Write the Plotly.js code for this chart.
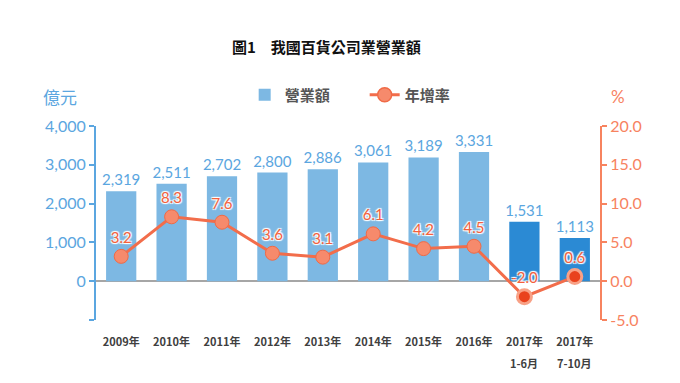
<!DOCTYPE html>
<html>
<head>
<meta charset="utf-8">
<script src="https://cdn.plot.ly/plotly-3.0.1.min.js"></script>
<style>html,body{margin:0;padding:0;background:#fff;}#chart{width:680px;height:383px;}</style>
</head>
<body>
<div id="chart"></div>
<script>
const categories = ["2009年","2010年","2011年","2012年","2013年","2014年","2015年","2016年","2017年","2017年"];
const subLabels = ["","","","","","","","","1-6月","7-10月"];
const revenue = [2319, 2511, 2702, 2800, 2886, 3061, 3189, 3331, 1531, 1113];
const growth = [3.2, 8.3, 7.6, 3.6, 3.1, 6.1, 4.2, 4.5, -2.0, 0.6];
const leftTicks = [-1000, 0, 1000, 2000, 3000, 4000];
const leftTickText = ["", "0", "1,000", "2,000", "3,000", "4,000"];
const rightTicks = [-5, 0, 5, 10, 15, 20];
const rightTickText = ["-5.0", "0.0", "5.0", "10.0", "15.0", "20.0"];

const BLUE_L = "#7db8e3", BLUE_D = "#2b8ad4", BLUE_T = "#5ba6e0";
const ORANGE = "#f26d4b", ORANGE_T = "#f7835f";
const FONT = "Lato, 'Noto Sans CJK TC', sans-serif";
const CJK = "'Noto Sans CJK TC', sans-serif";

const xIdx = categories.map((c, i) => i);
const barColors = categories.map((c, i) => i >= 8 ? BLUE_D : BLUE_L);
const mkFill = categories.map((c, i) => i >= 8 ? "#e9421d" : "#f68a6c");
const mkLine = categories.map((c, i) => i >= 8 ? "#f8a186" : "#f06a46");
const mkLW = categories.map((c, i) => i >= 8 ? 3 : 1);

const traces = [
  {
    type: "bar", name: "營業額", x: xIdx, y: revenue, width: 0.6,
    marker: {color: barColors},
    text: revenue.map(v => v.toLocaleString("en-US")),
    textposition: "outside", cliponaxis: false, constraintext: "none",
    textfont: {color: BLUE_T, size: 15, family: FONT},
    hoverinfo: "skip"
  },
  {
    type: "scatter", name: "年增率", x: xIdx, y: growth, yaxis: "y2",
    mode: "lines+markers+text",
    line: {color: ORANGE, width: 3},
    marker: {size: 14, color: mkFill, line: {color: mkLine, width: mkLW}},
    text: growth.map(v => v.toFixed(1)),
    textposition: "top center", cliponaxis: false,
    textfont: {color: "#f4603c", size: 15, family: FONT,
      shadow: "1px 1px 1px #fff, -1px -1px 1px #fff, 1px -1px 1px #fff, -1px 1px 1px #fff"},
    hoverinfo: "skip"
  }
];

const annotations = [
  {text: "<b>圖1　我國百貨公司業營業額</b>", xref: "paper", yref: "paper",
   x: (326 - 96) / 504, y: (320 - 47) / 194, xanchor: "center", yanchor: "middle",
   showarrow: false, font: {size: 15, color: "#111", family: CJK}},
  {text: "億元", xref: "paper", yref: "paper",
   x: (60 - 96) / 504, y: (320 - 96) / 194, xanchor: "center", yanchor: "middle",
   showarrow: false, font: {size: 17, color: BLUE_T, family: CJK}},
  {text: "%", xref: "paper", yref: "paper",
   x: (618 - 96) / 504, y: (320 - 96) / 194, xanchor: "center", yanchor: "middle",
   showarrow: false, font: {size: 17, color: ORANGE_T, family: FONT}}
];
subLabels.forEach((s, i) => {
  if (s) annotations.push({text: "<b>" + s + "</b>", xref: "x", yref: "paper", x: i,
    y: (320 - 363) / 194, xanchor: "center", yanchor: "middle", showarrow: false,
    font: {size: 11, color: "#404040", family: CJK}});
});

const layout = {
  width: 680, height: 383,
  margin: {l: 96, r: 80, t: 126, b: 63},
  paper_bgcolor: "#fff", plot_bgcolor: "#fff",
  font: {family: FONT},
  showlegend: true,
  legend: {
    orientation: "h", x: 0.295, xanchor: "left", y: 1.245, yanchor: "top",
    font: {size: 15, color: "#555", family: CJK, weight: "bold"},
    itemwidth: 30, entrywidth: 75, bgcolor: "rgba(0,0,0,0)"
  },
  xaxis: {
    type: "linear", range: [-0.5, 9.5],
    tickvals: xIdx, ticktext: categories.map(c => "<b>" + c + "</b>"),
    showgrid: false, zeroline: false, showline: false,
    ticks: "outside", ticklen: 12, tickcolor: "rgba(0,0,0,0)",
    tickfont: {size: 11, color: "#404040", family: CJK}
  },
  yaxis: {
    range: [-1000, 4000], tickvals: leftTicks, ticktext: leftTickText,
    showgrid: false, zeroline: true, zerolinecolor: "#a6a6a6", zerolinewidth: 2,
    showline: true, linecolor: BLUE_T, linewidth: 2,
    ticks: "outside", ticklen: 5, tickcolor: BLUE_T, tickwidth: 2,
    tickfont: {size: 16, color: BLUE_T, family: FONT}
  },
  yaxis2: {
    overlaying: "y", side: "right", range: [-5, 20],
    tickvals: rightTicks, ticktext: rightTickText,
    showgrid: false, zeroline: false,
    showline: true, linecolor: ORANGE_T, linewidth: 2,
    ticks: "outside", ticklen: 5, tickcolor: ORANGE_T, tickwidth: 2,
    tickfont: {size: 16, color: ORANGE_T, family: FONT}
  },
  annotations: annotations
};

Plotly.newPlot("chart", traces, layout, {staticPlot: true, displayModeBar: false});
</script>
</body>
</html>
